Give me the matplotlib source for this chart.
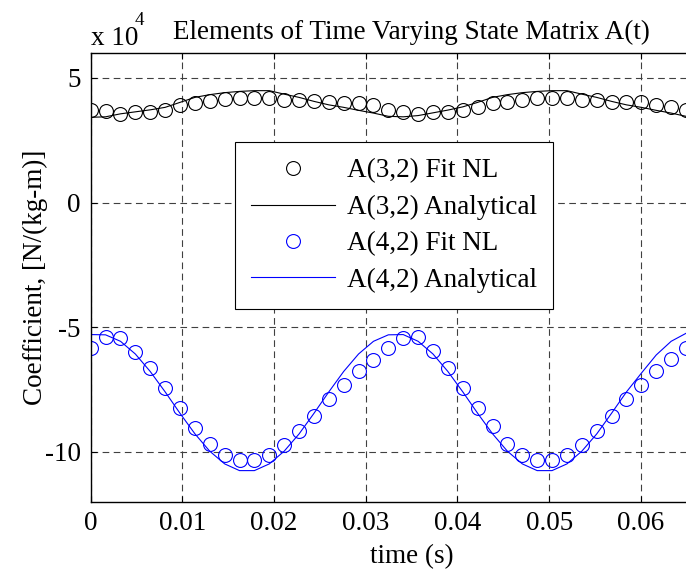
#!/usr/bin/env python3
"""Elements of the time varying state matrix A(t): fitted vs analytical."""
import matplotlib
matplotlib.use("Agg")
import matplotlib.pyplot as plt

# sample times (s)
time = [0.0, 0.00162, 0.00325, 0.00487, 0.00649, 0.00812, 0.00974, 0.01136,
        0.01298, 0.01461, 0.01623, 0.01785, 0.01948, 0.02110, 0.02272, 0.02435,
        0.02597, 0.02759, 0.02921, 0.03084, 0.03246, 0.03408, 0.03571, 0.03733,
        0.03895, 0.04058, 0.04220, 0.04382, 0.04544, 0.04707, 0.04869, 0.05031,
        0.05194, 0.05356, 0.05518, 0.05680, 0.05843, 0.06005, 0.06167, 0.06330,
        0.06492]

# coefficients in units of 1e4 N/(kg-m)
a32_fit = [3.72, 3.66, 3.55, 3.62, 3.62, 3.72, 3.93, 3.98, 4.06, 4.15, 4.19,
           4.19, 4.19, 4.11, 4.11, 4.06, 4.02, 3.98, 3.98, 3.93, 3.70, 3.62,
           3.55, 3.62, 3.62, 3.72, 3.85, 3.98, 4.04, 4.13, 4.18, 4.18, 4.19,
           4.12, 4.12, 4.03, 4.03, 4.03, 3.92, 3.82, 3.72]
a32_an = [3.42, 3.44, 3.56, 3.64, 3.72, 3.82, 4.02, 4.22, 4.33, 4.41, 4.46,
          4.49, 4.49, 4.35, 4.22, 4.06, 3.92, 3.82, 3.70, 3.59, 3.46, 3.44,
          3.49, 3.60, 3.71, 3.84, 4.02, 4.22, 4.33, 4.41, 4.46, 4.49, 4.49,
          4.35, 4.22, 4.06, 3.92, 3.82, 3.70, 3.59, 3.46]
a42_fit = [-5.82, -5.40, -5.42, -5.98, -6.63, -7.43, -8.24, -9.05, -9.68,
           -10.12, -10.32, -10.32, -10.12, -9.72, -9.18, -8.55, -7.90, -7.34,
           -6.76, -6.32, -5.82, -5.42, -5.38, -5.95, -6.63, -7.43, -8.24, -8.98,
           -9.68, -10.12, -10.32, -10.32, -10.14, -9.74, -9.18, -8.55, -7.89,
           -7.34, -6.75, -6.30, -5.82]
a42_an = [-5.30, -5.31, -5.57, -6.08, -6.78, -7.60, -8.46, -9.28, -9.98,
          -10.49, -10.76, -10.76, -10.49, -9.98, -9.29, -8.46, -7.60, -6.78,
          -6.08, -5.57, -5.31, -5.30, -5.57, -6.08, -6.78, -7.60, -8.46, -9.28,
          -9.98, -10.49, -10.76, -10.76, -10.49, -9.98, -9.29, -8.46, -7.60,
          -6.85, -6.12, -5.57, -5.25]

xticks = [0, 0.01, 0.02, 0.03, 0.04, 0.05, 0.06, 0.07]
xticklabels = ["0", "0.01", "0.02", "0.03", "0.04", "0.05", "0.06", ""]  # 0.07 is cropped off
yticks = [-10, -5, 0, 5]

plt.rcParams["font.family"] = ["Liberation Serif", "DejaVu Serif"]
plt.rcParams["axes.unicode_minus"] = False
FS = 19.5

fig = plt.figure(figsize=(6.86, 5.74), dpi=100)
# right edge of the axes sits past the figure edge (cropped in the original)
ax = fig.add_axes([0.1322, 0.1263, 0.9357, 0.7813])

ax.plot(time, a32_fit, "o", ms=10, mfc="none", mec="black", mew=0.8,
        label="A(3,2) Fit NL")
ax.plot(time, a32_an, "-", color="black", lw=0.8, label="A(3,2) Analytical")
ax.plot(time, a42_fit, "o", ms=10, mfc="none", mec="blue", mew=0.8,
        label="A(4,2) Fit NL")
ax.plot(time, a42_an, "-", color="blue", lw=0.8, label="A(4,2) Analytical")

ax.set_xlim(0, 0.07); ax.set_ylim(-12, 6)
ax.set_xticks(xticks); ax.set_xticklabels(xticklabels)
ax.set_yticks(yticks)
ax.tick_params(direction="in", length=4, width=0.8, top=True, right=True,
               labelsize=FS, pad=7)
ax.grid(True, color="0.25", lw=0.8, ls=(0, (6, 4)))
for s in ax.spines.values():
    s.set_linewidth(1.0)

ax.set_xlabel("time (s)", fontsize=FS, labelpad=6)
ax.set_ylabel("Coefficient, [N/(kg-m)]", fontsize=FS, labelpad=-2)
ax.set_title("Elements of Time Varying State Matrix A(t)", fontsize=FS, pad=10)
ax.text(0.0, 1.005, "x 10", transform=ax.transAxes, fontsize=FS,
        ha="left", va="bottom")
ax.text(0.068, 1.053, "4", transform=ax.transAxes, fontsize=FS * 0.7,
        ha="left", va="bottom")

leg = ax.legend(loc="upper left", bbox_to_anchor=(0.2243, 0.801),
                borderaxespad=0, fontsize=FS, handlelength=3.1,
                handletextpad=0.45, labelspacing=0.42, borderpad=0.6,
                fancybox=False, framealpha=1, edgecolor="black")
leg.get_frame().set_linewidth(0.8)

fig.savefig("out.png", dpi=100)
